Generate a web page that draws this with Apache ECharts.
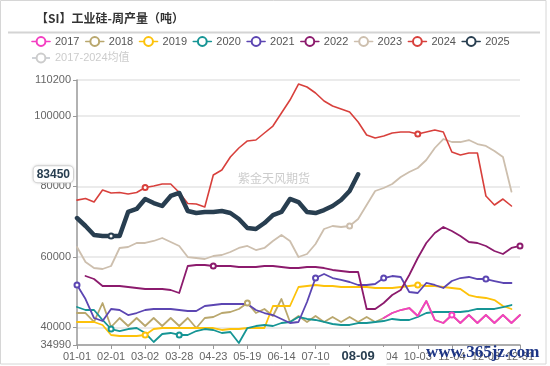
<!DOCTYPE html>
<html><head><meta charset="utf-8">
<script src="https://cdn.jsdelivr.net/npm/echarts@6/dist/echarts.min.js"></script>
<style>html,body{margin:0;padding:0;background:#fff}#c{width:550px;height:366px}</style>
</head><body><div id="c"></div>
<script>
// ---------------- data ----------------
const categories = ['01-01','01-08','01-15','01-22','02-01','02-08','02-15','02-22','03-02','03-08',
  '03-15','03-22','03-28','04-04','04-11','04-17','04-23','04-30','05-07','05-13',
  '05-19','05-26','06-02','06-08','06-14','06-21','06-28','07-04','07-10','07-17',
  '07-24','07-31','08-05','08-09','08-15','08-28','09-04','09-11','09-18','09-25',
  '10-03','10-10','10-17','10-24','11-04','11-11','11-18','11-25','12-03','12-10',
  '12-17','12-24','12-31'];

const titleText = '【SI】工业硅-周产量（吨）';
const seriesNames = ['2017','2018','2019','2020','2021','2022','2023','2024','2025','2017-2024均值'];

const start2017 = 36;
const v2017 = [42650,44070,44920,45490,43220,47480,42090,41230,43500,41230,43500,41230,43500,41230,43500,41230,43500];
const v2018 = [44070,44070,41520,46910,40100,42650,40380,42650,40380,42650,40380,42650,40380,42650,39810,42650,42940,44070,44360,45210,46910,44070,45210,43220,48040,41520,43220,41520,43220,41520,42940,41520,42940,41520,42940,41520,42650,44070,44920,45490,43220,47480,42090,41230,43500,41230,43500,41230,43500,41230,43500,41230,43500];
const v2019 = [41520,41520,41520,40670,37830,37540,37540,37540,37830,39530,39810,39810,39810,39810,39810,39810,39810,39250,39530,39530,39810,39810,39810,46060,46060,46060,51450,51730,52020,51730,51730,51450,51450,51450,51450,51170,51170,51170,51450,51730,52020,51730,51730,51450,51170,50880,49180,48610,48330,47760,46060,45210];
const v2020 = [45770,44920,44920,42090,39530,38960,39530,39810,38400,35840,38110,38400,37830,37830,38960,39530,39250,38400,38680,35560,39810,40380,40670,40380,41230,41520,42940,42370,42090,41520,40950,40670,40670,41230,41230,41520,41800,42370,42090,42090,42940,44070,44360,44360,44360,44360,44640,45210,45210,45210,45770,46340];
const v2021 = [52020,48040,42650,41800,45210,44920,43500,44070,44920,45210,45210,45210,44920,44640,44640,46060,46340,46630,46630,46630,46630,44920,44070,43500,42370,41230,41520,47190,54000,55140,54000,53440,52870,52020,52020,52300,54000,54570,54290,50030,49750,52590,52020,51170,53150,54000,54290,53720,53720,53150,52590,52590];
const start2022 = 1;
const v2022 = [54570,53720,51730,51730,51730,51450,51170,50880,50880,50880,50600,49750,57410,57690,57690,57410,57410,57410,57130,57130,57130,57410,57410,57130,56840,56840,57130,57130,56840,56280,55990,55710,55710,45210,45210,46910,49180,50600,54860,59680,63940,66780,68480,67340,65920,64220,63940,63090,61670,60820,62520,63090];
const v2023 = [62800,58550,56840,56560,57410,62520,62800,63940,63940,64510,65360,64220,63090,59960,59680,59400,60250,60530,61380,62520,63090,61950,62520,64510,66210,64510,59960,60820,63650,67910,68760,68480,68760,70750,74720,78700,79550,80680,82670,84090,85220,87490,90900,93450,92600,92600,93170,92030,91470,90050,88340,78500];
const v2024 = [76100,76570,75570,78980,78130,78270,77840,78270,79690,80110,80680,80680,78270,75150,75010,74150,83240,84660,88340,90900,92890,93170,95160,97140,100830,104520,109060,108210,106510,104240,102820,101970,101120,98280,94590,93740,94300,95160,95440,95440,94870,95440,96010,95440,89760,88910,89480,89480,77280,74720,76420,74440];
const v2025 = [71030,68760,66200,65920,65920,65920,72740,73590,76430,75290,74440,77280,78130,73020,72450,72740,72740,73020,72450,70750,68200,67910,69610,71880,72740,76430,75570,72740,72450,73300,74440,76140,78700,83450];
const vAvg = [];

const yMin = 34990, yMax = 110200;
const pointerCategory = '08-09';
const pointerValue = 83450;

// marker (hollow dot) positions per series, as category indices
const markerIdx = {'2017':[44],'2018':[20],'2019':[8,40],'2020':[4,12],'2021':[0,28,36,48],
  '2022':[16,52],'2023':[32],'2024':[8,40],'2025':[4]};

// ---------------- styles ----------------
const colors = {'2017':'#f43fc2','2018':'#b9a76d','2019':'#fdc20a','2020':'#169595','2021':'#5c46b2',
  '2022':'#8c1b6d','2023':'#cdbfae','2024':'#d8403c','2025':'#283e50','2017-2024均值':'#cfcfcf'};
const widths = {'2025':4.5,'2024':1.6};

function pad(arr, start){ return Array(start).fill(null).concat(arr); }
const raw = {'2017':pad(v2017,start2017),'2018':v2018,'2019':v2019,'2020':v2020,'2021':v2021,
  '2022':pad(v2022,start2022),'2023':v2023,'2024':v2024,'2025':v2025,'2017-2024均值':vAvg};

const series = seriesNames.map(name => {
  const m = markerIdx[name] || [];
  return {
    name, type:'line', symbol:'emptyCircle', symbolSize:5, showAllSymbol:true,
    z: name==='2025'?5:(name==='2017'?4:2),
    color: colors[name],
    itemStyle:{color:colors[name], borderWidth:1.2},
    lineStyle:{width: widths[name]||1.8, color:colors[name], cap:'round', join:'round'},
    emphasis:{disabled:true},
    animation:false,
    data: raw[name].map((v,i) => v==null ? null : (m.includes(i) ? {value:v} : {value:v, symbol:'none'}))
  };
});

const chart = echarts.init(document.getElementById('c'));
chart.setOption({
  animation:false,
  textStyle:{fontFamily:'"Liberation Sans", "Noto Sans CJK SC", sans-serif'},
  legend:{left:31, top:36, width:500, padding:0, itemWidth:18, itemHeight:11, itemGap:5.5,
    textStyle:{fontSize:11, color:'#555'}, inactiveColor:'#ccc',
    lineStyle:{width:1.6},
    data:seriesNames, selected:{'2017-2024均值':false}},
  grid:{left:77, right:30, top:80, bottom:21, containLabel:false},
  xAxis:{type:'category', data:categories, boundaryGap:false,
    axisLine:{lineStyle:{color:'#999', width:1.5}},
    axisTick:{interval:3, length:4, lineStyle:{color:'#999'}},
    axisLabel:{interval:3, color:'#666', fontSize:11, margin:6},
    splitLine:{show:false},
    axisPointer:{show:true, status:'show', value:categories.indexOf(pointerCategory), triggerTooltip:false,
      lineStyle:{color:'rgba(0,0,0,0)', width:0},
      label:{show:true, fontWeight:'bold', fontSize:13, color:'#283e50', backgroundColor:'#fff',
        padding:[3,12,3,12], margin:3}}
  },
  yAxis:{type:'value', min:yMin, max:yMax,
    axisLine:{show:true, lineStyle:{color:'#999', width:1.5}},
    axisTick:{show:true, length:4, lineStyle:{color:'#999'}},
    axisLabel:{formatter:v=>String(v), color:'#666', fontSize:11, showMinLabel:true, showMaxLabel:true, margin:6},
    splitLine:{lineStyle:{color:'#e4e4e4', width:1.5}},
    axisPointer:{show:true, status:'show', value:pointerValue, triggerTooltip:false,
      lineStyle:{color:'rgba(0,0,0,0)', width:0},
      label:{show:true, formatter:p=>String(Math.round(p.value)), fontWeight:'bold', fontSize:12, color:'#283e50',
        backgroundColor:'#fff', borderColor:'#ddd', borderWidth:1, borderRadius:4, padding:[2,3],
        shadowColor:'rgba(0,0,0,0.15)', shadowBlur:3, margin:4}}
  },
  graphic:[
    {type:'rect', shape:{x:0.5, y:0.5, width:545.5, height:363.5}, style:{fill:'none', stroke:'#d6d6d6', lineWidth:1}, silent:true},
    {type:'line', shape:{x1:8, y1:32.5, x2:540, y2:32.5}, style:{stroke:'#d4d4d4', lineWidth:2}, silent:true},
    {type:'text', x:36, y:18, style:{text:titleText, fill:'#333', font:'bold 12px "Noto Sans CJK SC"', verticalAlign:'middle'}, silent:true},
    {type:'text', left:238, top:172, style:{text:'紫金天风期货', fill:'#cccccc', font:'12px "Noto Sans CJK SC"'}, silent:true, z:1},
    {type:'text', left:426, top:344, style:{text:'www.365jz.com', fill:'#1d3585', font:'bold 17px "Liberation Serif"'}, silent:true, z:100}
  ],
  series
});
</script></body></html>
